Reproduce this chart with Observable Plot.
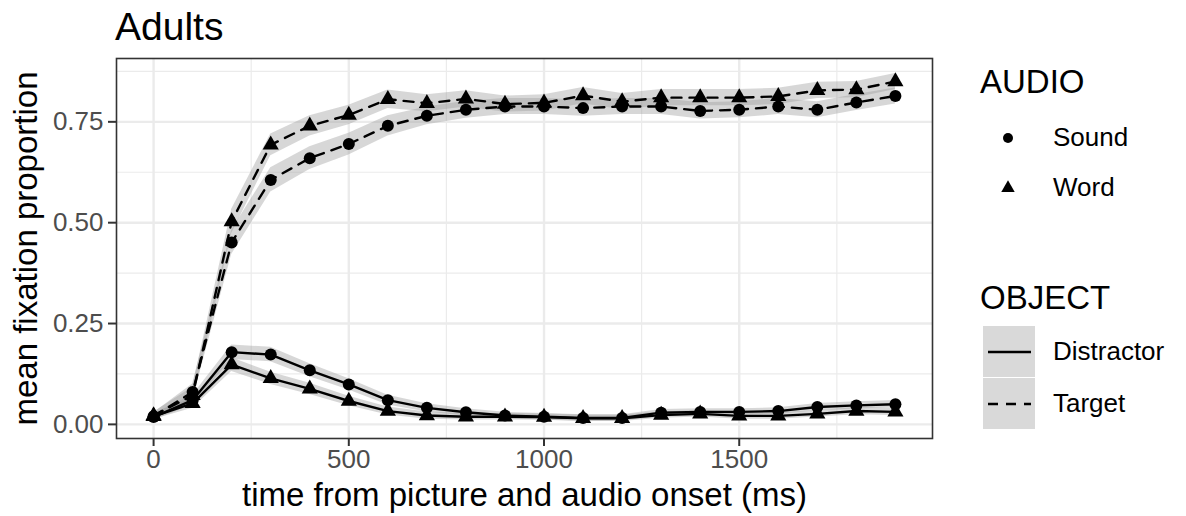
<!DOCTYPE html>
<html>
<head>
<meta charset="utf-8">
<script src="https://cdn.jsdelivr.net/npm/d3@7"></script>
<script src="https://cdn.jsdelivr.net/npm/@observablehq/plot@0.6"></script>
<style>
  html, body { margin: 0; padding: 0; background: #fff; }
  #wrap { position: relative; width: 1186px; height: 516px; font-family: "Liberation Sans", Arial, sans-serif; color: #000; }
  #wrap svg { position: absolute; left: 0; top: 0; }
  .abs { position: absolute; white-space: nowrap; line-height: 1; }
</style>
</head>
<body>
<div id="wrap"></div>
<script>
// ---- data ----
const time = [0, 100, 200, 300, 400, 500, 600, 700, 800, 900, 1000, 1100, 1200, 1300, 1400, 1500, 1600, 1700, 1800, 1900];

const targetSound = [0.020, 0.080, 0.451, 0.606, 0.660, 0.695, 0.740, 0.765, 0.780, 0.788, 0.788, 0.784, 0.788, 0.788, 0.777, 0.780, 0.788, 0.780, 0.798, 0.814];
const targetWord  = [0.022, 0.072, 0.503, 0.693, 0.740, 0.767, 0.806, 0.796, 0.807, 0.794, 0.797, 0.815, 0.800, 0.810, 0.810, 0.810, 0.813, 0.828, 0.830, 0.850];
const distractorSound = [0.018, 0.060, 0.179, 0.173, 0.134, 0.099, 0.060, 0.041, 0.030, 0.022, 0.019, 0.016, 0.016, 0.029, 0.031, 0.031, 0.033, 0.043, 0.047, 0.050];
const distractorWord  = [0.020, 0.052, 0.148, 0.114, 0.088, 0.058, 0.033, 0.022, 0.019, 0.019, 0.018, 0.015, 0.015, 0.023, 0.026, 0.021, 0.021, 0.026, 0.033, 0.031];

// standard errors (ribbon half-widths)
const targetSoundSE = [0.008, 0.020, 0.030, 0.030, 0.028, 0.027, 0.025, 0.022, 0.021, 0.020, 0.020, 0.020, 0.020, 0.020, 0.020, 0.020, 0.020, 0.020, 0.020, 0.020];
const targetWordSE  = [0.008, 0.020, 0.030, 0.027, 0.025, 0.024, 0.023, 0.021, 0.020, 0.020, 0.020, 0.020, 0.020, 0.020, 0.020, 0.020, 0.020, 0.020, 0.020, 0.020];
const distractorSoundSE = [0.008, 0.012, 0.018, 0.018, 0.016, 0.014, 0.012, 0.010, 0.009, 0.008, 0.008, 0.008, 0.008, 0.008, 0.008, 0.008, 0.008, 0.009, 0.009, 0.009];
const distractorWordSE  = [0.008, 0.012, 0.017, 0.015, 0.014, 0.012, 0.010, 0.009, 0.008, 0.008, 0.008, 0.008, 0.008, 0.008, 0.008, 0.008, 0.008, 0.008, 0.009, 0.009];

const audioLevels = ["Sound", "Word"];
const objectLevels = ["Distractor", "Target"];
const xTicks = [0, 500, 1000, 1500];
const yTicks = [0, 0.25, 0.5, 0.75];
const xMinor = [250, 750, 1250, 1750];
const yMinor = [0.125, 0.375, 0.625, 0.875];

const title = "Adults";
const xLabel = "time from picture and audio onset (ms)";
const yLabel = "mean fixation proportion";

// ---- build table ----
const series = [
  {object: "Target", audio: "Sound", v: targetSound, se: targetSoundSE},
  {object: "Target", audio: "Word", v: targetWord, se: targetWordSE},
  {object: "Distractor", audio: "Sound", v: distractorSound, se: distractorSoundSE},
  {object: "Distractor", audio: "Word", v: distractorWord, se: distractorWordSE}
];
const rows = [];
for (const s of series) {
  time.forEach((t, i) => rows.push({
    time: t, y: s.v[i], lo: s.v[i] - s.se[i], hi: s.v[i] + s.se[i],
    object: s.object, audio: s.audio, key: s.object + "-" + s.audio
  }));
}

const FONT = "Liberation Sans, Arial, sans-serif";

const chart = Plot.plot({
  width: 1186,
  height: 516,
  marginLeft: 116,
  marginRight: 254,
  marginTop: 58,
  marginBottom: 78,
  style: {fontFamily: FONT, background: "#fff"},
  x: {domain: [-95, 1995]},
  y: {domain: [-0.035, 0.907]},
  symbol: {domain: audioLevels, range: ["circle", "triangle"]},
  marks: [
    Plot.ruleX(xMinor, {stroke: "#ebebeb", strokeWidth: 1.2}),
    Plot.ruleY(yMinor, {stroke: "#ebebeb", strokeWidth: 1.2}),
    Plot.ruleX(xTicks, {stroke: "#ebebeb", strokeWidth: 2.4}),
    Plot.ruleY(yTicks, {stroke: "#ebebeb", strokeWidth: 2.4}),
    Plot.areaY(rows, {x: "time", y1: "lo", y2: "hi", z: "key", fill: "#9a9a9a", fillOpacity: 0.4}),
    Plot.line(rows.filter(d => d.object === "Distractor"), {x: "time", y: "y", z: "key", stroke: "#000", strokeWidth: 2.4}),
    Plot.line(rows.filter(d => d.object === "Target"), {x: "time", y: "y", z: "key", stroke: "#000", strokeWidth: 2.4, strokeDasharray: "10,8"}),
    Plot.dot(rows, {x: "time", y: "y", symbol: "audio", fill: "#000", r: 6}),
    Plot.frame({stroke: "#333", strokeWidth: 1.6}),
    Plot.axisX({ticks: xTicks, tickSize: 8, tickPadding: 3, strokeWidth: 2, stroke: "#333", fill: "#4d4d4d", fontSize: 26, tickFormat: d3.format("d"), label: null}),
    Plot.axisY({ticks: yTicks, tickSize: 8, tickPadding: 5, strokeWidth: 2, stroke: "#333", fill: "#4d4d4d", fontSize: 26, tickFormat: d3.format(".2f"), label: null}),
    Plot.text([xLabel], {frameAnchor: "bottom", textAnchor: "middle", dy: 56.5, fontSize: 33, fill: "#000", lineAnchor: "middle"}),
    Plot.text([yLabel], {frameAnchor: "left", textAnchor: "middle", dx: -90.5, rotate: -90, fontSize: 33, fill: "#000", lineAnchor: "middle"})
  ]
});

const wrap = document.getElementById("wrap");
wrap.appendChild(chart);

function addText(txt, left, top, size) {
  const d = document.createElement("div");
  d.className = "abs";
  d.textContent = txt;
  d.style.left = left + "px";
  d.style.top = top + "px";
  d.style.fontSize = size + "px";
  wrap.appendChild(d);
  return d;
}

addText(title, 115, 7, 39);

// AUDIO legend
addText("AUDIO", 980, 65, 33);
const ns = "http://www.w3.org/2000/svg";
const leg = document.createElementNS(ns, "svg");
leg.setAttribute("width", 1186); leg.setAttribute("height", 516);
leg.style.position = "absolute"; leg.style.left = "0px"; leg.style.top = "0px"; leg.style.pointerEvents = "none";
wrap.appendChild(leg);
const symbolPaths = {Sound: d3.symbol(d3.symbolCircle, Math.PI * 5 * 5)(), Word: d3.symbol(d3.symbolTriangle, Math.PI * 5 * 5)()};
audioLevels.forEach((a, i) => {
  const cy = 138 + i * 50;
  const p = document.createElementNS(ns, "path");
  p.setAttribute("d", symbolPaths[a]);
  p.setAttribute("transform", `translate(1008,${cy})`);
  p.setAttribute("fill", "#000");
  leg.appendChild(p);
  addText(a, 1053, cy - 14, 26);
});

// OBJECT legend
addText("OBJECT", 980, 281, 33);
objectLevels.forEach((o, i) => {
  const y0 = 326 + i * 52;
  const r = document.createElementNS(ns, "rect");
  r.setAttribute("x", 983); r.setAttribute("y", y0); r.setAttribute("width", 52); r.setAttribute("height", 51);
  r.setAttribute("fill", "#d9d9d9");
  leg.appendChild(r);
  const l = document.createElementNS(ns, "line");
  l.setAttribute("x1", 988); l.setAttribute("x2", 1031);
  l.setAttribute("y1", y0 + 26); l.setAttribute("y2", y0 + 26);
  l.setAttribute("stroke", "#000"); l.setAttribute("stroke-width", 2.4);
  if (o === "Target") l.setAttribute("stroke-dasharray", "10,8");
  leg.appendChild(l);
  addText(o, 1053, y0 + 12, 26);
});
</script>
</body>
</html>
